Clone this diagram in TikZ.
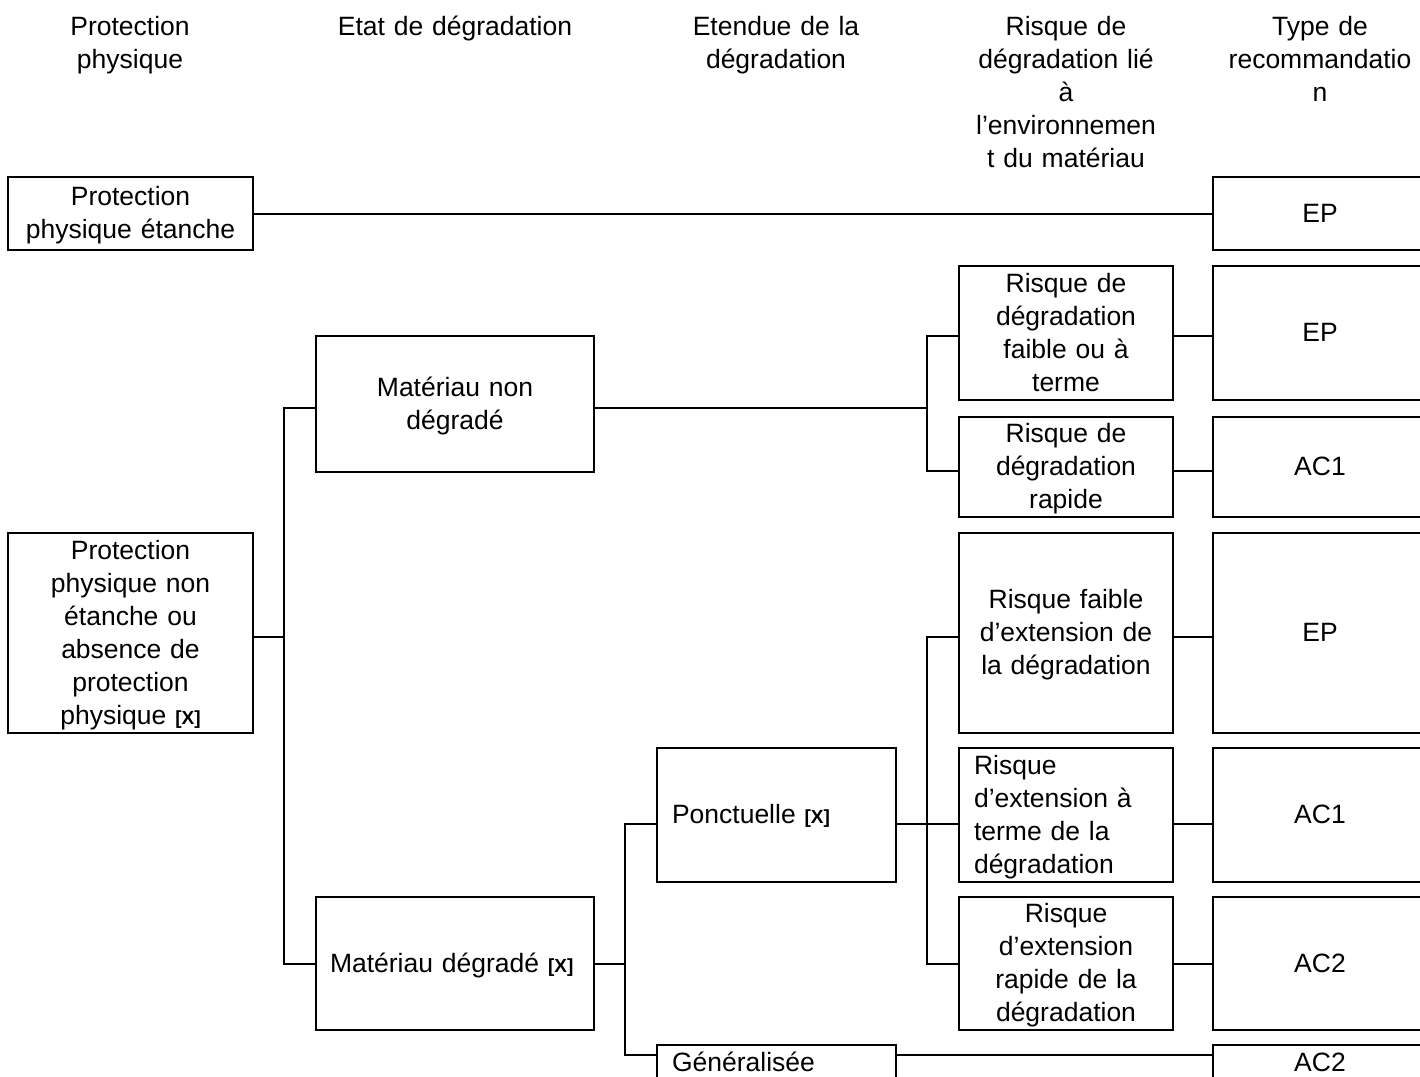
\documentclass[tikz,border=0pt]{standalone}
\usepackage{fontspec}
\setmainfont{Liberation Sans}
\newcommand\xmk{{\fontsize{19}{33}\selectfont\bfseries [X]}}
\newcommand\mystrut{\vrule width0pt height25.1pt depth7.9pt\relax}
\begin{document}
\begin{tikzpicture}[x=1pt,y=-1pt,
  every node/.style={font=\fontsize{26.5}{33}\selectfont, inner sep=0pt,
    execute at begin node=\mystrut, execute at end node=\mystrut},
  hdr/.style={anchor=north, align=center, text width=240pt},
  box/.style={draw, line width=2pt, align=center, anchor=center, text width=#1},
  lbox/.style={box=#1, align=left, inner xsep=15pt},
  conn/.style={line width=2pt}]
\fill[white] (0,0) rectangle (1420,1076);
\useasboundingbox (0,0) rectangle (1420,1076);

% headers
\node[hdr] (h1) at (130,10.4) {Protection\\physique};
\node[hdr] (h2) at (455,10.4) {Etat de dégradation};
\node[hdr] (h3) at (776,10.4) {Etendue de la\\dégradation};
\node[hdr] (h4) at (1066,10.4) {Risque de\\dégradation lié\\à\\l’environnemen\\t du matériau};
\node[hdr] (h5) at (1320,10.4) {Type de\\recommandatio\\n};

% boxes
\node[box=235pt, minimum width=245pt, minimum height=73pt] (ppe) at (130.5,213.5) {Protection\\physique étanche};
\node[box=204pt, minimum width=214pt, minimum height=73pt] (ep1) at (1320,213.5) {EP};
\node[box=204pt, minimum width=214pt, minimum height=134pt] (rdf) at (1066,333) {Risque de\\dégradation\\faible ou à\\terme};
\node[box=204pt, minimum width=214pt, minimum height=134pt] (ep2) at (1320,333) {EP};
\node[box=204pt, minimum width=214pt, minimum height=100pt] (rdr) at (1066,467) {Risque de\\dégradation\\rapide};
\node[box=204pt, minimum width=214pt, minimum height=100pt] (ac1a) at (1320,467) {AC1};
\node[box=268pt, minimum width=278pt, minimum height=136pt] (mnd) at (455,404) {Matériau non\\dégradé};
\node[box=235pt, minimum width=245pt, minimum height=200pt] (ppne) at (130.5,633) {Protection\\physique non\\étanche ou\\absence de\\protection\\physique \xmk};
\node[box=204pt, minimum width=214pt, minimum height=200pt] (rfe) at (1066,633) {Risque faible\\d’extension de\\la dégradation};
\node[box=204pt, minimum width=214pt, minimum height=200pt] (ep3) at (1320,633) {EP};
\node[lbox=209pt, minimum height=134pt] (pon) at (776.5,815) {Ponctuelle \xmk};
\node[lbox=184pt, minimum height=134pt] (rte) at (1066,815) {Risque\\d’extension à\\terme de la\\dégradation};
\node[box=204pt, minimum width=214pt, minimum height=134pt] (ac1b) at (1320,815) {AC1};
\node[lbox=250pt, inner xsep=14pt, minimum height=133pt] (md) at (455,963.5) {Matériau dégradé \xmk};
\node[box=204pt, minimum width=214pt, minimum height=133pt] (rre) at (1066,963.5) {Risque\\d’extension\\rapide de la\\dégradation};
\node[box=204pt, minimum width=214pt, minimum height=133pt] (ac2a) at (1320,963.5) {AC2};
\node[lbox=209pt, minimum height=35pt] (gen) at (776.5,1062.5) {Généralisée};
\node[box=204pt, minimum width=214pt, minimum height=35pt] (ac2b) at (1320,1062.5) {AC2};

% connectors
\draw[conn] (ppe.east) -- (ep1.west);
\draw[conn] ([yshift=-4pt]ppne.east) -| ([xshift=-31pt,yshift=-4pt]mnd.west) -- ([yshift=-4pt]mnd.west);
\draw[conn] ([yshift=-4pt]ppne.east) -| ([xshift=-31pt]md.west) -- (md.west);
\draw[conn] ([yshift=-4pt]mnd.east) -| ([xshift=-31pt,yshift=-3pt]rdf.west) -- ([yshift=-3pt]rdf.west);
\draw[conn] ([yshift=-4pt]mnd.east) -| ([xshift=-31pt,yshift=-4pt]rdr.west) -- ([yshift=-4pt]rdr.west);
\draw[conn] ([yshift=-3pt]rdf.east) -- ([yshift=-3pt]ep2.west);
\draw[conn] ([yshift=-4pt]rdr.east) -- ([yshift=-4pt]ac1a.west);
\draw[conn] (md.east) -| ([xshift=-31pt,yshift=-9pt]pon.west) -- ([yshift=-9pt]pon.west);
\draw[conn] (md.east) -| ([xshift=-31pt,yshift=7.5pt]gen.west) -- ([yshift=7.5pt]gen.west);
\draw[conn] ([yshift=-9pt]pon.east) -| ([xshift=-31pt,yshift=-4pt]rfe.west) -- ([yshift=-4pt]rfe.west);
\draw[conn] ([yshift=-9pt]pon.east) -- ([yshift=-9pt]rte.west);
\draw[conn] ([yshift=-9pt]pon.east) -| ([xshift=-31pt]rre.west) -- (rre.west);
\draw[conn] ([yshift=-4pt]rfe.east) -- ([yshift=-4pt]ep3.west);
\draw[conn] ([yshift=-9pt]rte.east) -- ([yshift=-9pt]ac1b.west);
\draw[conn] (rre.east) -- (ac2a.west);
\draw[conn] ([yshift=7.5pt]gen.east) -- ([yshift=7.5pt]ac2b.west);
\end{tikzpicture}
\end{document}
